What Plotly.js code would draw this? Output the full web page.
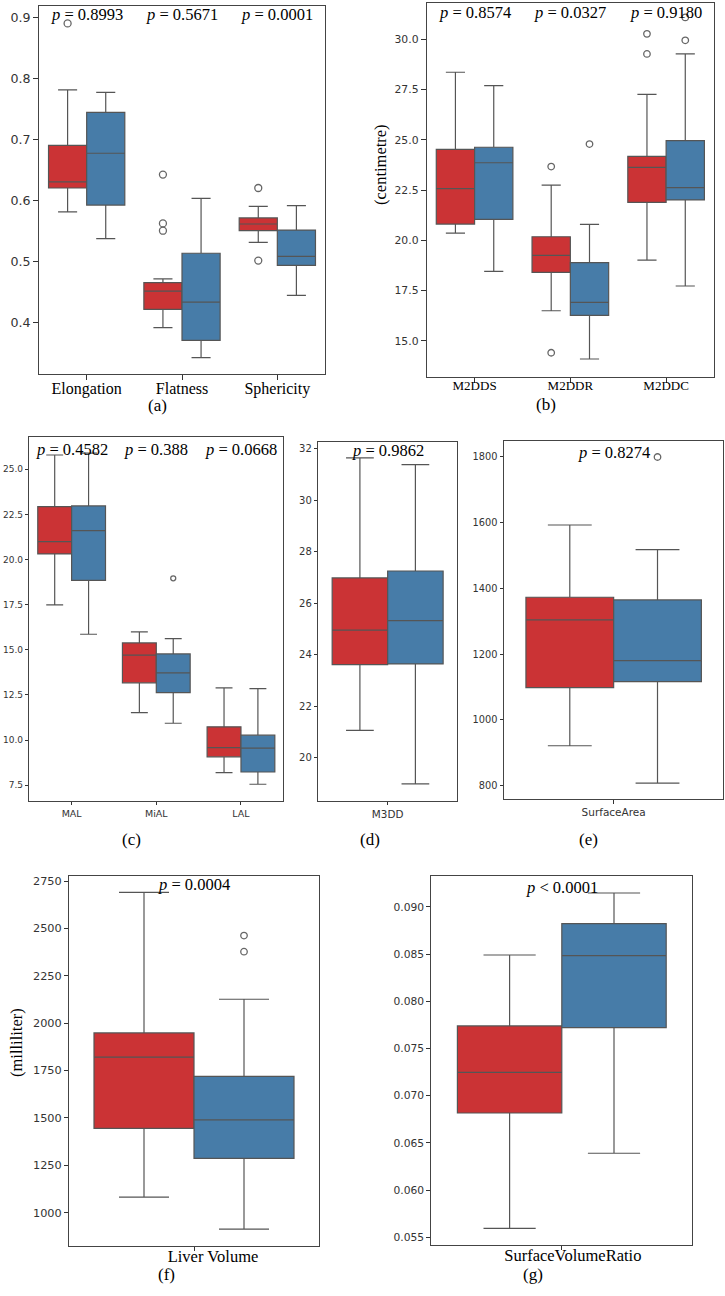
<!DOCTYPE html>
<html>
<head>
<meta charset="utf-8">
<script src="https://cdn.plot.ly/plotly-3.0.1.min.js"></script>
<style>
  html, body { margin: 0; padding: 0; background: #fff; }
  #chart { width: 725px; height: 1296px; }
</style>
</head>
<body>
<div id="chart"></div>
<script>
// Five-number summaries: [lower whisker, Q1, median, Q3, upper whisker]
// (a) shape descriptors
const shapeCats = ["Elongation", "Flatness", "Sphericity"];
const elongationRed  = [0.581, 0.620, 0.630, 0.690, 0.781];
const elongationBlue = [0.537, 0.592, 0.677, 0.744, 0.777];
const flatnessRed    = [0.391, 0.421, 0.451, 0.465, 0.471];
const flatnessBlue   = [0.342, 0.370, 0.433, 0.513, 0.603];
const sphericityRed  = [0.531, 0.550, 0.561, 0.571, 0.590];
const sphericityBlue = [0.444, 0.493, 0.508, 0.551, 0.591];
const elongationRedOut = [0.890];
const flatnessRedOut   = [0.642, 0.562, 0.550];
const sphericityRedOut = [0.620, 0.501];
const pShape = ["= 0.8993", "= 0.5671", "= 0.0001"];

// (b) 2D diameters (centimetre)
const m2dCats = ["M2DDS", "M2DDR", "M2DDC"];
const m2ddsRed  = [20.36, 20.81, 22.57, 24.53, 28.36];
const m2ddsBlue = [18.46, 21.04, 23.86, 24.63, 27.70];
const m2ddrRed  = [16.50, 18.41, 19.25, 20.18, 22.75];
const m2ddrBlue = [14.10, 16.27, 16.92, 18.89, 20.80];
const m2ddcRed  = [19.02, 21.89, 23.63, 24.18, 27.26];
const m2ddcBlue = [17.73, 22.01, 22.62, 24.96, 29.27];
const m2ddrRedOut  = [23.67, 14.41];
const m2ddrBlueOut = [24.79];
const m2ddcRedOut  = [30.27, 29.27];
const m2ddcBlueOut = [31.09, 29.95];
const pM2d = ["= 0.8574", "= 0.0327", "= 0.9180"];

// (c) axis lengths
const axisCats = ["MAL", "MiAL", "LAL"];
const malRed   = [17.49, 20.31, 20.99, 22.93, 25.79];
const malBlue  = [15.86, 18.85, 21.60, 22.97, 25.89];
const mialRed  = [11.52, 13.17, 14.70, 15.38, 15.99];
const mialBlue = [10.93, 12.63, 13.72, 14.77, 15.62];
const lalRed   = [8.19, 9.07, 9.58, 10.73, 12.89];
const lalBlue  = [7.55, 8.23, 9.55, 10.27, 12.85];
const mialBlueOut = [18.96];
const pAxis = ["= 0.4582", "= 0.388", "= 0.0668"];

// (d) 3D diameter
const m3dCats = ["M3DD"];
const m3ddRed  = [21.06, 23.61, 24.95, 26.98, 31.64];
const m3ddBlue = [18.98, 23.64, 25.32, 27.25, 31.38];
const pM3d = ["= 0.9862"];

// (e) surface area
const areaCats = ["SurfaceArea"];
const surfaceAreaRed  = [921, 1098, 1304, 1373, 1593];
const surfaceAreaBlue = [807, 1116, 1180, 1365, 1518];
const surfaceAreaBlueOut = [1800];
const pArea = ["= 0.8274"];

// (f) liver volume (milliliter)
const volumeCats = ["Liver Volume"];
const liverVolumeRed  = [1082, 1445, 1821, 1948, 2690];
const liverVolumeBlue = [913, 1286, 1489, 1719, 2126];
const liverVolumeBlueOut = [2462, 2377];
const pVolume = ["= 0.0004"];

// (g) surface / volume ratio
const ratioCats = ["SurfaceVolumeRatio"];
const svRatioRed  = [0.05595, 0.06817, 0.07248, 0.07739, 0.08491];
const svRatioBlue = [0.0639, 0.07721, 0.08484, 0.08823, 0.09148];
const pRatio = ["< 0.0001"];

// ---- styling and layout ----
const W = 725, H = 1296;
const fx = px => px / W;
const fy = py => 1 - py / H;
const RED = "#cb3335", BLUE = "#477ca8", EDGE = "#555555", FRAME = "#444444";
const SERIF = "Liberation Serif, Times New Roman, serif";
const SANS = "DejaVu Sans, sans-serif";

const panels = [
  { ax: "",  box: [39, 325, 6, 374], yr: [0.315, 0.9185], t0: 0.4, dt: 0.1, fmt: ".1f",
    cats: shapeCats, red: [elongationRed, flatnessRed, sphericityRed],
    blue: [elongationBlue, flatnessBlue, sphericityBlue],
    redOut: [elongationRedOut, flatnessRedOut, sphericityRedOut], blueOut: [[], [], []],
    p: pShape, pY: 15, yFont: 12.6, xFont: { family: SERIF, size: 16, color: "#000" },
    ms: 7, tl: 5, so: -5, label: "(a)", lx: 157, ly: 405 },
  { ax: "2", box: [426.7, 714, 2.7, 376.7], yr: [13.22, 31.82], t0: 15, dt: 2.5, fmt: ".1f",
    cats: m2dCats, red: [m2ddsRed, m2ddrRed, m2ddcRed], blue: [m2ddsBlue, m2ddrBlue, m2ddcBlue],
    redOut: [[], m2ddrRedOut, m2ddcRedOut], blueOut: [[], m2ddrBlueOut, m2ddcBlueOut],
    p: pM2d, pY: 12.7, yFont: 10.8, xFont: { family: SERIF, size: 13, color: "#000" },
    ms: 6.5, tl: 5, so: -8, label: "(b)", lx: 545.7, ly: 404,
    ytitle: "(centimetre)", tx: 380, ty: 165 },
  { ax: "3", box: [29.3, 283.3, 437.3, 800.7], yr: [6.64, 26.77], t0: 7.5, dt: 2.5, fmt: ".1f",
    cats: axisCats, red: [malRed, mialRed, lalRed], blue: [malBlue, mialBlue, lalBlue],
    redOut: [[], [], []], blueOut: [[], mialBlueOut, []],
    p: pAxis, pY: 449.3, yFont: 9, xFont: { family: SANS, size: 9.5, color: "#333" },
    ms: 5, tl: 3.5, so: 0, label: "(c)", lx: 131.7, ly: 839 },
  { ax: "4", box: [318.3, 457, 441.7, 800.7], yr: [18.33, 32.27], t0: 20, dt: 2, fmt: "d",
    cats: m3dCats, red: [m3ddRed], blue: [m3ddBlue], redOut: [[]], blueOut: [[]],
    p: pM3d, pY: 450, yFont: 10, xFont: { family: SANS, size: 10.4, color: "#333" },
    ms: 6, tl: 3.5, so: 0, label: "(d)", lx: 370, ly: 839 },
  { ax: "5", box: [504, 723.3, 440.7, 799.3], yr: [758, 1849.6], t0: 800, dt: 200, fmt: "d",
    cats: areaCats, red: [surfaceAreaRed], blue: [surfaceAreaBlue], redOut: [[]], blueOut: [surfaceAreaBlueOut],
    p: pArea, pY: 452.3, yFont: 9.8, xFont: { family: SANS, size: 10.5, color: "#333" },
    ms: 6.5, tl: 3.5, so: 0, label: "(e)", lx: 588.7, ly: 839 },
  { ax: "6", box: [69, 319, 875.7, 1245.7], yr: [825.3, 2778], t0: 1000, dt: 250, fmt: "d",
    cats: volumeCats, red: [liverVolumeRed], blue: [liverVolumeBlue], redOut: [[]], blueOut: [liverVolumeBlueOut],
    p: pVolume, pY: 884, yFont: 11.3, xFont: { family: SERIF, size: 16.5, color: "#000" },
    ms: 6.5, tl: 4, so: -9, label: "(f)", lx: 166.7, ly: 1274, shift: 19,
    ytitle: "(milliliter)", tx: 16, ty: 1043 },
  { ax: "7", box: [431.3, 692.3, 876.3, 1245], yr: [0.05418, 0.09325], t0: 0.055, dt: 0.005, fmt: ".3f",
    cats: ratioCats, red: [svRatioRed], blue: [svRatioBlue], redOut: [[]], blueOut: [[]],
    p: pRatio, pY: 887.7, yFont: 10.7, xFont: { family: SERIF, size: 16.5, color: "#000" },
    ms: 6.5, tl: 4, so: -9, label: "(g)", lx: 532.7, ly: 1274, shift: 11 }
];

const traces = [];
const layout = {
  width: W, height: H, margin: { l: 0, r: 0, t: 0, b: 0 },
  paper_bgcolor: "#fff", plot_bgcolor: "#fff",
  showlegend: false, boxmode: "overlay", annotations: []
};

panels.forEach(pn => {
  const xa = "x" + pn.ax, ya = "y" + pn.ax;
  const [l, r, t, b] = pn.box;
  const groups = [
    { stats: pn.red, outs: pn.redOut, color: RED, off: -0.2 },
    { stats: pn.blue, outs: pn.blueOut, color: BLUE, off: 0.2 }
  ];
  groups.forEach(g => {
    traces.push({
      type: "box", xaxis: xa, yaxis: ya,
      x: pn.cats.map((c, i) => i + g.off),
      lowerfence: g.stats.map(s => s[0]),
      q1: g.stats.map(s => s[1]),
      median: g.stats.map(s => s[2]),
      q3: g.stats.map(s => s[3]),
      upperfence: g.stats.map(s => s[4]),
      width: 0.4, whiskerwidth: 0.5, boxpoints: false,
      fillcolor: g.color, line: { color: EDGE, width: 1.2 },
      hoverinfo: "skip"
    });
    const ox = [], oy = [];
    g.outs.forEach((arr, i) => arr.forEach(v => { ox.push(i + g.off); oy.push(v); }));
    if (ox.length) {
      traces.push({
        type: "scatter", mode: "markers", xaxis: xa, yaxis: ya, x: ox, y: oy,
        marker: { symbol: "circle-open", size: pn.ms, color: "#666", line: { width: 1.3, color: "#666" } },
        hoverinfo: "skip", cliponaxis: false
      });
    }
  });

  const axCommon = {
    showline: true, mirror: true, linecolor: FRAME, linewidth: 1,
    ticks: "outside", ticklen: pn.tl, tickcolor: "#333", tickwidth: 1,
    showgrid: false, zeroline: false, fixedrange: true
  };
  layout["xaxis" + pn.ax] = Object.assign({}, axCommon, {
    domain: [fx(l), fx(r)], anchor: ya,
    range: [-0.5, pn.cats.length - 0.5],
    tickmode: "array", tickvals: pn.cats.map((c, i) => i), ticktext: pn.cats,
    tickfont: pn.xFont, ticklabelshift: pn.shift || 0, ticklabelstandoff: pn.so
  });
  layout["yaxis" + pn.ax] = Object.assign({}, axCommon, {
    domain: [fy(b), fy(t)], anchor: xa, range: pn.yr,
    tick0: pn.t0, dtick: pn.dt, tickformat: pn.fmt,
    tickfont: { family: SANS, size: pn.yFont, color: "#333" }
  });

  pn.p.forEach((s, i) => {
    layout.annotations.push({
      xref: xa, yref: "paper", x: i, y: fy(pn.pY), xanchor: "center", yanchor: "middle",
      text: "<i>p</i> " + s, showarrow: false,
      font: { family: SERIF, size: 16.5, color: "#000" }
    });
  });
  layout.annotations.push({
    xref: "paper", yref: "paper", x: fx(pn.lx), y: fy(pn.ly), xanchor: "center", yanchor: "middle",
    text: pn.label, showarrow: false, font: { family: SERIF, size: 17, color: "#000" }
  });
  if (pn.ytitle) {
    layout.annotations.push({
      xref: "paper", yref: "paper", x: fx(pn.tx), y: fy(pn.ty), xanchor: "center", yanchor: "middle",
      text: pn.ytitle, textangle: -90, showarrow: false,
      font: { family: SERIF, size: 16.5, color: "#000" }
    });
  }
});

Plotly.newPlot("chart", traces, layout, { staticPlot: true, displayModeBar: false });
</script>
</body>
</html>
